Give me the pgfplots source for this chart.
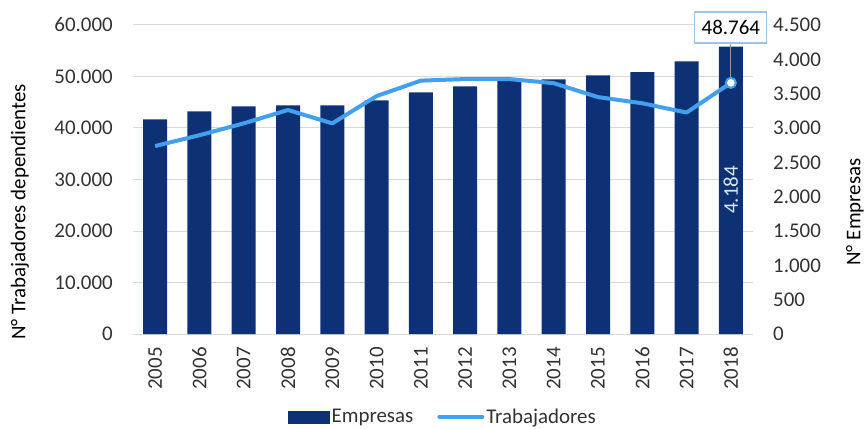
\documentclass[border=0pt]{standalone}
\usepackage{fontspec}
\setmainfont{Carlito}
\usepackage{pgfplots}
\pgfplotsset{compat=1.18}
\definecolor{navy}{RGB}{14,49,117}
\definecolor{lblue}{RGB}{66,160,238}
\definecolor{gridc}{RGB}{217,217,217}
\definecolor{tickc}{RGB}{50,50,50}
\definecolor{boxc}{RGB}{157,195,230}
\definecolor{labc}{RGB}{215,232,250}
\newcommand{\cf}{\fontsize{21}{25}\selectfont}
\pgfplotsset{
  base/.style={scale only axis, width=620bp, height=309bp, xmin=-0.5, xmax=13.5, ymin=0,
    at={(0,0)}, anchor=south west, major tick length=0pt, scaled y ticks=false,
    tick label style={font=\cf, text=tickc},
    /pgf/number format/.cd, 1000 sep={.}, assume math mode=true},
}
\begin{document}
\begin{tikzpicture}
\begin{axis}[base, ymax=4500,
  axis x line*=bottom, axis y line*=right,
  x axis line style={draw=gridc, line width=1bp, -},
  y axis line style={draw=none},
  xtick={0,1,2,3,4,5,6,7,8,9,10,11,12,13},
  xticklabels={2005,2006,2007,2008,2009,2010,2011,2012,2013,2014,2015,2016,2017,2018},
  xticklabel style={yshift=-13bp, rotate=90, anchor=east, inner sep=0pt},
  ytick={0,500,...,4500},
  yticklabel style={anchor=west, inner sep=0pt, xshift=20bp},
  extra y ticks={750,1500,2250,3000,3750,4500},
  extra y tick labels={},
  extra y tick style={grid=major, major grid style={draw=gridc, line width=1bp}},
]
\addplot[ybar, bar width=24bp, bar shift=0pt, fill=navy, draw=none] coordinates {
 (0,3127) (1,3243) (2,3316) (3,3331) (4,3331) (5,3403) (6,3520)
 (7,3607) (8,3700) (9,3709) (10,3767) (11,3815) (12,3971) (13,4184)};
\node[rotate=90, text=labc, font=\cf] at (axis cs:13,2097) {4.184};
\end{axis}
\begin{axis}[base, ymax=60000, clip=false,
  axis x line=none, axis y line*=left,
  y axis line style={draw=none},
  ytick={0,10000,...,60000},
  yticklabel style={anchor=east, inner sep=0pt, xshift=-20bp},
  legend style={at={(0.5,0)}, anchor=center, yshift=-83bp, draw=none, fill=none,
    legend columns=2, font=\cf, text=tickc, inner sep=0pt,
    /tikz/every even column/.append style={column sep=22bp}},
]
\addlegendimage{legend image code/.code={\fill[navy] (0bp,-6bp) rectangle (41bp,6bp);}}
\addlegendentry{Empresas}
\addplot[lblue, line width=4bp, mark=none, line join=round,
  legend image code/.code={\draw[lblue, line width=4bp, line cap=round] (0bp,0bp) -- (43bp,0bp);}]
  coordinates {
 (0,36500) (1,38600) (2,40900) (3,43500) (4,40900) (5,46200) (6,49200)
 (7,49500) (8,49500) (9,48700) (10,46000) (11,44800) (12,43000) (13,48764)};
\addlegendentry{Trabajadores}
\draw[gray!80, line width=0.8bp] (axis cs:13,48764) -- (axis cs:13,56700);
\addplot[only marks, mark=*, mark size=5bp, mark options={fill=white, draw=lblue, line width=2bp}, forget plot]
  coordinates {(13,48764)};
\node[draw=boxc, line width=1.2bp, fill=white, inner sep=0pt, minimum width=72bp, minimum height=31bp, font=\cf, text=black]
  at (axis cs:13,59515) {48.764};
\end{axis}
\node[rotate=90, font=\cf, text=black] at (-113bp,122bp) {N° Trabajadores dependientes};
\node[rotate=90, font=\cf, text=black] at (722bp,122bp) {N° Empresas};
\pgfresetboundingbox
\useasboundingbox (-133bp,-95bp) rectangle (731bp,334bp);
\end{tikzpicture}
\end{document}
